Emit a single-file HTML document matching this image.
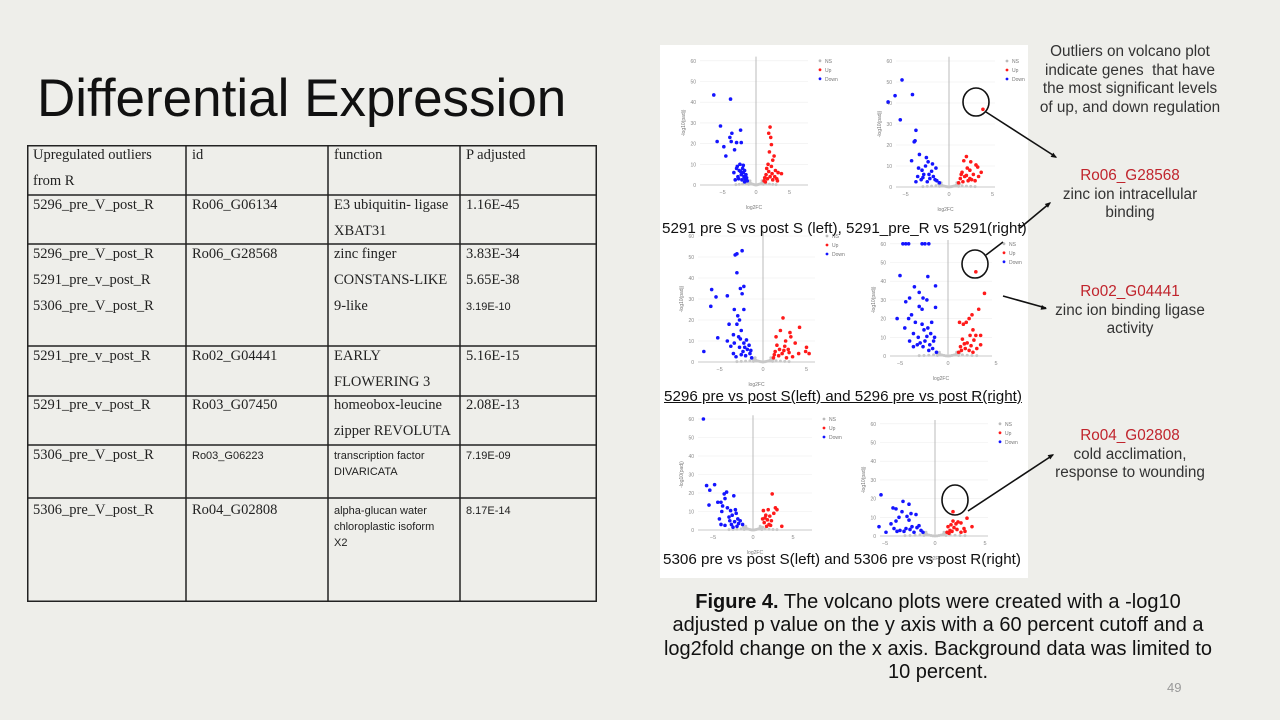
<!DOCTYPE html>
<html><head><meta charset="utf-8">
<style>
body{margin:0;width:1280px;height:720px;background:#eeeeea;position:relative;overflow:hidden;font-family:"Liberation Sans",sans-serif}
.abs{position:absolute}
.cell{position:absolute;font-family:"Liberation Serif",serif;font-size:14.5px;line-height:26px;color:#222;padding-left:6px;white-space:nowrap}
.sans{font-family:"Liberation Sans",sans-serif;font-size:11px;line-height:16px}
.note{position:absolute;width:250px;left:1005px;text-align:center;font-size:15.3px;line-height:18.5px;color:#333}
.red{color:#c0242c}
</style></head><body>
<div class="abs" style="left:37px;top:68px;font-size:53px;color:#111;">Differential Expression</div>

<div class="abs" style="left:27px;top:145px;width:570px;height:457px;">
<svg width="570" height="457" style="position:absolute;left:0;top:0">
<g stroke="#222" stroke-width="1.5" fill="none">
<rect x="0.75" y="0.75" width="568.5" height="455.5"/>
<line x1="159" y1="0" x2="159" y2="457"/><line x1="301" y1="0" x2="301" y2="457"/><line x1="433" y1="0" x2="433" y2="457"/>
<line x1="0" y1="50" x2="570" y2="50"/><line x1="0" y1="99" x2="570" y2="99"/><line x1="0" y1="201" x2="570" y2="201"/>
<line x1="0" y1="251" x2="570" y2="251"/><line x1="0" y1="300" x2="570" y2="300"/><line x1="0" y1="353" x2="570" y2="353"/>
</g></svg>
<div class="cell" style="left:0;top:-3px">Upregulated outliers<br>from R</div>
<div class="cell" style="left:159px;top:-3px">id</div>
<div class="cell" style="left:301px;top:-3px">function</div>
<div class="cell" style="left:433px;top:-3px">P adjusted</div>
<div class="cell" style="left:0;top:47px">5296_pre_V_post_R</div>
<div class="cell" style="left:159px;top:47px">Ro06_G06134</div>
<div class="cell" style="left:301px;top:47px">E3 ubiquitin- ligase<br>XBAT31</div>
<div class="cell" style="left:433px;top:47px">1.16E-45</div>
<div class="cell" style="left:0;top:96px">5296_pre_V_post_R<br>5291_pre_v_post_R<br>5306_pre_V_post_R</div>
<div class="cell" style="left:159px;top:96px">Ro06_G28568</div>
<div class="cell" style="left:301px;top:96px">zinc finger<br>CONSTANS-LIKE<br>9-like</div>
<div class="cell" style="left:433px;top:96px">3.83E-34<br>5.65E-38<br><span class="sans">3.19E-10</span></div>
<div class="cell" style="left:0;top:198px">5291_pre_v_post_R</div>
<div class="cell" style="left:159px;top:198px">Ro02_G04441</div>
<div class="cell" style="left:301px;top:198px">EARLY<br>FLOWERING 3</div>
<div class="cell" style="left:433px;top:198px">5.16E-15</div>
<div class="cell" style="left:0;top:247px">5291_pre_v_post_R</div>
<div class="cell" style="left:159px;top:247px">Ro03_G07450</div>
<div class="cell" style="left:301px;top:247px">homeobox-leucine<br>zipper REVOLUTA</div>
<div class="cell" style="left:433px;top:247px">2.08E-13</div>
<div class="cell" style="left:0;top:297px">5306_pre_V_post_R</div>
<div class="cell sans" style="left:159px;top:303px">Ro03_G06223</div>
<div class="cell sans" style="left:301px;top:303px">transcription factor<br>DIVARICATA</div>
<div class="cell sans" style="left:433px;top:303px">7.19E-09</div>
<div class="cell" style="left:0;top:352px">5306_pre_V_post_R</div>
<div class="cell" style="left:159px;top:352px">Ro04_G02808</div>
<div class="cell sans" style="left:301px;top:358px">alpha-glucan water<br>chloroplastic isoform<br>X2</div>
<div class="cell sans" style="left:433px;top:358px">8.17E-14</div>
</div>

<svg id="fig" class="abs" style="left:0;top:0" width="1280" height="720">
<rect x="660" y="45" width="368" height="533" fill="#fff"/>
</svg>

<div class="abs" style="left:662px;top:220px;font-size:15.2px;color:#111;white-space:nowrap">5291 pre S vs post S (left), 5291_pre_R vs 5291(right)</div>
<div class="abs" style="left:664px;top:388px;font-size:15.2px;color:#111;white-space:nowrap;text-decoration:underline">5296 pre vs post S(left) and 5296 pre vs post R(right)</div>
<div class="abs" style="left:663px;top:551px;font-size:15.2px;color:#111;white-space:nowrap">5306 pre vs post S(left) and 5306 pre vs post R(right)</div>

<div class="note" style="top:43px">Outliers on volcano plot<br>indicate genes&nbsp; that have<br>the most significant levels<br>of up, and down regulation</div>
<div class="note" style="top:167px"><span class="red">Ro06_G28568</span><br>zinc ion intracellular<br>binding</div>
<div class="note" style="top:283px"><span class="red">Ro02_G04441</span><br>zinc ion binding ligase<br>activity</div>
<div class="note" style="top:427px"><span class="red">Ro04_G02808</span><br>cold acclimation,<br>response to wounding</div>

<div class="abs" style="left:638px;top:591px;width:600px;text-align:center;font-size:20px;line-height:23.3px;color:#111;white-space:nowrap"><b>Figure 4.</b> The volcano plots were created with a -log10<br>adjusted p value on the y axis with a 60 percent cutoff and a<br>log2fold change on the x axis. Background data was limited to<br>10 percent.</div>
<div class="abs" style="left:1167px;top:680px;font-size:13px;color:#999">49</div>

<script>
// data: [log2FC, -log10 padj]
const down1=[[-6.3,43.5],[-3.8,41.5],[-5.3,28.5],[-5.8,21],[-4.8,18.5],[-4.5,14],[-3.9,23],[-3.6,25],[-3.7,21],[-3.2,17],[-2.9,20.5],[-2.3,26.5],[-2.2,20.5],[-3.3,6],[-3.1,2.5],[-2.8,9],[-2.5,7],[-2.2,5],[-2,8],[-1.8,4],[-1.6,3],[-1.3,2],[-2.7,4],[-2.4,10],[-1.9,6],[-1.5,5],[-2.1,2.5],[-1.7,1.5],[-2.6,3],[-1.9,9.5],[-1.4,3.5],[-2.3,6.5],[-1.7,7],[-2.9,8]];
const up1=[[2.1,28],[1.9,25],[2.2,23],[2.3,19.5],[2.0,16],[2.7,14],[2.5,12],[1.8,10],[2.3,9],[3.3,6],[3.8,5.5],[2.9,7],[1.5,5],[1.7,3],[1.2,2],[2.1,4],[2.5,2.5],[3.1,3],[1.4,1.5],[1.9,6.5],[2.8,4],[3.2,2],[1.6,8],[1.3,3.5],[2.4,5.5]];
const down2=[[-7,40.5],[-6.2,43.5],[-5.4,51],[-4.2,44],[-5.6,32],[-3.8,27],[-3.9,22],[-4,21.5],[-4.3,12.5],[-3.4,15.5],[-3.1,8],[-2.6,14],[-2.4,12],[-1.9,11],[-1.5,9],[-2.9,6],[-3.6,5],[-3.8,2.5],[-2.2,4],[-1.8,5],[-1.4,3],[-2.5,2.5],[-3.2,3.5],[-1.1,2],[-2,7.5],[-2.7,10],[-3.5,9],[-1.6,3.5],[-2.3,6],[-3.0,4.5]];
const up2=[[3.9,37],[2.0,14.5],[2.5,12],[1.7,12.5],[3.3,9.5],[3.1,10.5],[3.7,7],[3.4,5],[2.4,8],[1.5,7],[2.8,6],[1.3,4],[1.1,2],[2.2,3],[1.8,5],[2.6,3.5],[3.0,3],[1.6,2.5],[2.1,9],[1.4,6],[2.0,5.5],[2.4,4]];
const down3=[[-3.2,51],[-3,51.5],[-2.4,53],[-3,42.5],[-2.6,35],[-2.2,36],[-2.4,32.5],[-5.9,34.5],[-5.4,31],[-6,26.5],[-4.1,31.5],[-3.3,25],[-2.9,22],[-2.7,20],[-2.2,25],[-3,18],[-3.9,18],[-2.5,15],[-3.4,13],[-4.1,10],[-5.2,11.5],[-6.8,5],[-3.4,4],[-2.7,7],[-2.2,9],[-1.8,6],[-1.5,4],[-1.3,2],[-2,3],[-3.1,2.5],[-2.8,12],[-2.3,5],[-3.7,7.5],[-1.9,10.5],[-1.6,8],[-2.5,3.5],[-2.6,11],[-3.3,9],[-2.1,7],[-1.4,5.5]];
const up3=[[2.3,21],[4.2,16.5],[3.1,14],[2.0,15],[3.2,12],[1.5,12],[2.6,10],[3.7,9],[5.0,7],[5.3,4],[4.9,5],[4.1,4],[2.9,6],[1.4,5],[1.8,3],[1.2,2],[2.2,4],[3.4,2.5],[2.7,2],[1.6,8],[2.5,7.5],[1.9,6],[3.0,4.5],[1.3,3.5],[2.4,5.5]];
const down4=[[-4.7,60],[-4.4,60],[-4.1,60],[-2.7,60],[-2.4,60],[-2,60],[-5,43],[-2.1,42.5],[-3.5,37],[-1.3,37.5],[-3,34],[-2.6,31],[-4,31],[-4.4,29],[-2.2,30],[-3,26.5],[-1.3,26],[-3.8,22],[-2.7,25],[-5.3,20],[-4.1,20],[-3.4,18],[-2.7,17],[-4.5,15],[-3.6,12],[-2.5,14],[-3.1,10],[-4,8],[-2.2,10.5],[-1.8,12],[-1.5,8],[-2.6,5],[-3.2,6],[-1.6,4],[-2,3],[-1.2,2],[-2.9,7],[-1.9,6],[-2.4,8],[-3.6,5],[-1.4,10],[-2.1,15],[-1.7,18]];
const up4=[[2.9,45],[3.8,33.5],[3.2,25],[2.5,22],[2.2,20],[1.9,18],[1.2,18],[1.6,17],[2.6,14],[2.9,11],[2.3,11],[3.4,11],[2.7,8.5],[3.4,6],[2.0,7],[1.5,9],[1.3,5],[1.8,4],[1.1,2],[2.2,3],[2.6,2],[1.7,6.5],[2.4,5.5],[3.0,4],[1.4,3]];
const down5=[[-6.2,60],[-5.8,24],[-4.8,24.5],[-5.4,21.5],[-5.5,13.5],[-4.4,15],[-4,15],[-3.6,19.5],[-3.3,20.5],[-2.4,18.5],[-3.5,17],[-3.8,13],[-3.9,10],[-3.2,12],[-4.2,6],[-4,3],[-3.5,2.5],[-2.8,10.5],[-2.6,8],[-2.1,9],[-2.9,5],[-2.3,4.5],[-1.9,6],[-1.6,5],[-1.3,3],[-2,2],[-2.5,1.5],[-3,7],[-1.8,3.5],[-2.2,11],[-2.7,3]];
const up5=[[2.4,19.5],[2.8,12],[3.0,11],[2.6,9],[1.9,11],[1.3,10.5],[1.6,8],[2.1,7.5],[3.6,2],[2.3,5],[1.8,5.5],[1.4,4],[2.0,3],[1.7,2],[1.2,6],[2.2,2.5],[1.5,6.5]];
const down6=[[-5.4,22],[-3.2,18.5],[-2.6,17],[-4.2,15],[-3.9,14.5],[-3.3,13],[-2.4,12],[-1.9,11.5],[-3.6,10],[-2.8,10.5],[-3.9,8],[-2.6,8.5],[-4.4,6.5],[-5.6,5],[-4.9,2],[-4.1,4],[-3.5,3],[-2.9,4],[-2.3,5],[-1.8,4.5],[-1.4,3],[-2.1,2],[-3.1,2.5],[-1.6,5.5],[-2.5,3.5],[-3.8,2.5],[-1.2,2]];
const up6=[[1.8,13],[3.2,9.5],[1.8,8],[2.3,7.5],[2.6,7],[2.1,6.5],[3.7,5],[1.6,6],[1.3,5],[2.9,4],[1.5,3],[2.2,3.5],[1.2,2],[2.6,2],[1.9,4.5],[3.0,2.5],[1.4,1.5],[1.7,2.5]];
const nsPts=[[-1.2,1.5],[-1,1],[-0.8,0.8],[-0.6,0.5],[-0.4,0.3],[-0.2,0.1],[0,0],[0.2,0.1],[0.4,0.3],[0.6,0.5],[0.8,0.8],[1,1],[1.2,1.5],[-1.5,0.6],[1.5,0.6],[-2,0.4],[2,0.4],[-2.5,0.3],[2.5,0.3],[-3,0.2],[3,0.2],[-0.9,2],[0.9,2],[-1.1,0.3],[1.1,0.3]];
const yTicks=[0,10,20,30,40,50,60];
const xTicks=[-5,0,5];
const seriesLabels=["NS","Up","Down"];

const panels=[
 {down:down1,up:up1,x0:756,ux:6.7,y0:185,uy:2.07,xl:700,xr:808},
 {down:down2,up:up2,x0:949,ux:8.7,y0:187,uy:2.1,xl:896,xr:995},
 {down:down3,up:up3,x0:763,ux:8.7,y0:362,uy:2.1,xl:698,xr:815},
 {down:down4,up:up4,x0:948,ux:9.6,y0:356,uy:1.87,xl:890,xr:992},
 {down:down5,up:up5,x0:753,ux:8,y0:530,uy:1.85,xl:698,xr:812},
 {down:down6,up:up6,x0:935,ux:10,y0:536,uy:1.87,xl:880,xr:988}
];
const svg=document.getElementById('fig');
const NS='http://www.w3.org/2000/svg';
function mk(tag,attrs,parent){const e=document.createElementNS(NS,tag);for(const k in attrs)e.setAttribute(k,attrs[k]);(parent||svg).appendChild(e);return e;}
panels.forEach((p,i)=>{
 const g=mk('g',{});
 
 
 const sx=v=>p.x0+v*p.ux, sy=v=>p.y0-v*p.uy;
 yTicks.forEach(t=>{
  mk('line',{x1:p.xl,x2:p.xr,y1:sy(t),y2:sy(t),stroke:'#eee','stroke-width':0.6},g);
  const tx=mk('text',{x:p.xl-4,y:sy(t)+2,'font-size':5,'text-anchor':'end',fill:'#888'},g);tx.textContent=t;
 });
 xTicks.forEach(t=>{const tx=mk('text',{x:sx(t),y:p.y0+9,'font-size':5.5,'text-anchor':'middle',fill:'#888'},g);tx.textContent=t<0?'\u2212'+(-t):t;});
 mk('line',{x1:p.x0,x2:p.x0,y1:sy(62),y2:p.y0,stroke:'#aaa','stroke-width':0.8},g);
 mk('line',{x1:p.xl,x2:p.xr,y1:p.y0,y2:p.y0,stroke:'#bbb','stroke-width':0.8},g);
 const xt=mk('text',{x:(p.xl+p.xr)/2,y:p.y0+24,'font-size':5,'text-anchor':'middle',fill:'#777'},g);xt.textContent='log2FC';
 const yt=mk('text',{x:0,y:0,'font-size':5,'text-anchor':'middle',fill:'#777',transform:`translate(${p.xl-15},${sy(30)}) rotate(-90)`},g);yt.textContent='-log10(padj)';
 nsPts.forEach(d=>{const c=mk('circle',{cx:sx(d[0]),cy:sy(d[1]),r:1.5,fill:'#c8c8c8'},g);});
 p.down.forEach(d=>{const c=mk('circle',{cx:sx(d[0]),cy:sy(d[1]),r:1.8,fill:'#1414ff'},g);});
 p.up.forEach(d=>{const c=mk('circle',{cx:sx(d[0]),cy:sy(d[1]),r:1.8,fill:'#ff1a1a'},g);});
 const cols=['#bbb','#ff1a1a','#1414ff'];
 seriesLabels.forEach((l,k)=>{
  const ly=sy(60)+k*9;
  mk('circle',{cx:p.xr+12,cy:ly,r:1.4,fill:cols[k]},g);
  const lt=mk('text',{x:p.xr+17,y:ly+2,'font-size':5,fill:'#777'},g);lt.textContent=l;
  
  
 });
});
// annotation circles & arrows
const ag=mk('g',{stroke:'#111','stroke-width':1.6,fill:'none'});


mk('ellipse',{cx:976,cy:102,rx:13,ry:14},ag);
mk('ellipse',{cx:975,cy:264,rx:13,ry:14},ag);
mk('ellipse',{cx:955,cy:500,rx:13,ry:15},ag);
mk('line',{x1:986,y1:112,x2:1056,y2:157},ag);
mk('line',{x1:986,y1:255,x2:1003,y2:242},ag);
mk('line',{x1:1020,y1:228,x2:1050,y2:203},ag);
mk('line',{x1:1003,y1:296,x2:1046,y2:308},ag);
mk('line',{x1:968,y1:511,x2:1053,y2:455},ag);
[[1057,158,33],[1051,202,-40],[1047,309,16],[1054,454,-33]].forEach(a=>{
 mk('polygon',{points:'0,0 -6,-2.5 -6,2.5',fill:'#111',stroke:'none',transform:`translate(${a[0]},${a[1]}) rotate(${a[2]})`},ag);
});
</script>
</body></html>
